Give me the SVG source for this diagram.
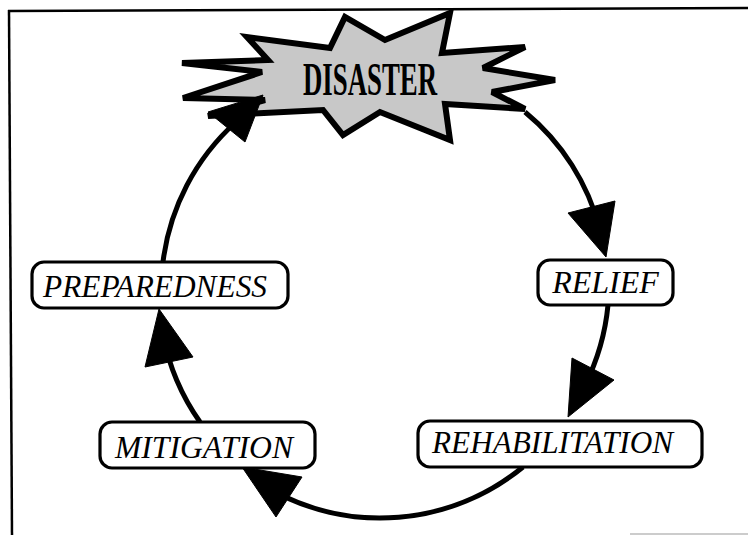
<svg xmlns="http://www.w3.org/2000/svg" width="748" height="535" viewBox="0 0 748 535">
  <style>
    .frame { stroke: #000; stroke-width: 2.5; fill: none; }
    .box { fill: #fff; stroke: #000; stroke-width: 3.2; }
    .lbl { font-family: "Liberation Serif", "Times New Roman", serif; font-style: italic; font-size: 32px; fill: #000; }
    .arc { fill: none; stroke: #000; stroke-width: 5; }
    .head { fill: #000; stroke: #000; stroke-width: 1; stroke-linejoin: miter; }
    .burst { fill: #c8c8c8; stroke: #000; stroke-width: 6; stroke-linejoin: miter; stroke-miterlimit: 3; }
    .title { font-family: "Liberation Serif", "Times New Roman", serif; font-weight: bold; font-size: 47px; fill: #000; }
  </style>
  <rect x="0" y="0" width="748" height="535" fill="#fff"/>
  <g id="frame">
    <line class="frame" x1="8" y1="11" x2="748" y2="8"/>
    <line class="frame" x1="9" y1="10" x2="12" y2="535"/>
    <line x1="630" y1="534" x2="748" y2="534" stroke="#bbb" stroke-width="1.5"/>
  </g>
  <g id="disaster">
    <polygon class="burst" points="182,63 262,72 183,98 265,100 208,116 323,110 343,135 380,112 450,140 445,104 525,109 492,92 555,80 483,68 525,47 442,53 450,13 385,40 345,17 330,48 247,37 268,60"/>
    <text class="title" x="303" y="95" textLength="134" lengthAdjust="spacingAndGlyphs">DISASTER</text>
  </g>
  <g id="connectors">
    <path class="arc" d="M525,112 A225,225 0 0 1 600,230"/>
    <polygon class="head" points="568,213 615,201 606,257"/>
    <path class="arc" d="M608,305 A225,225 0 0 1 585,385"/>
    <polygon class="head" points="572,358 614,380 568,417"/>
    <path class="arc" d="M523,467 A225,225 0 0 1 268,488"/>
    <polygon class="head" points="302,477 276,517 242,467"/>
    <path class="arc" d="M200,422 A225,225 0 0 1 163,335"/>
    <polygon class="head" points="145,367 193,357 159,309"/>
    <path class="arc" d="M163,262 A225,225 0 0 1 236,122"/>
    <polygon class="head" points="208,112 245,142 263,95"/>
  </g>
  <g id="relief">
    <rect class="box" x="538" y="260" width="135" height="45" rx="12"/>
    <text class="lbl" x="605.5" y="293" text-anchor="middle">RELIEF</text>
  </g>
  <g id="rehabilitation">
    <rect class="box" x="418" y="421" width="284" height="46" rx="12"/>
    <text class="lbl" x="432" y="453" textLength="241" lengthAdjust="spacingAndGlyphs">REHABILITATION</text>
  </g>
  <g id="mitigation">
    <rect class="box" x="100" y="422" width="215" height="46" rx="12"/>
    <text class="lbl" x="115" y="458" textLength="178" lengthAdjust="spacingAndGlyphs">MITIGATION</text>
  </g>
  <g id="preparedness">
    <rect class="box" x="32" y="262" width="256" height="46" rx="12"/>
    <text class="lbl" x="43" y="297" textLength="224" lengthAdjust="spacingAndGlyphs">PREPAREDNESS</text>
  </g>
</svg>
